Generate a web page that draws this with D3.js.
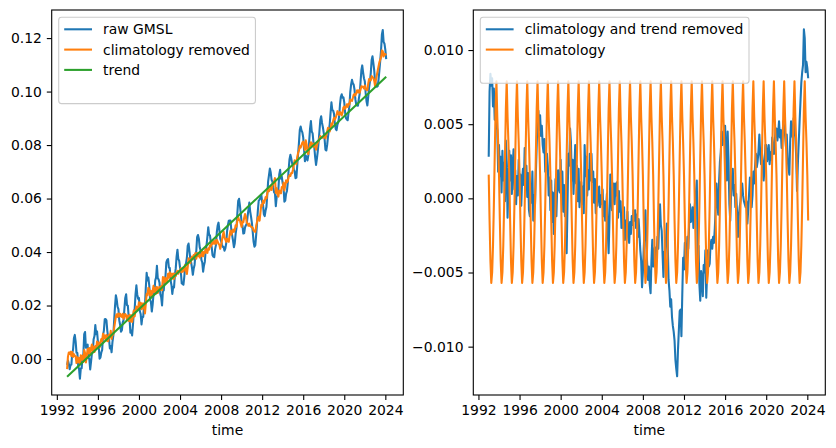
<!DOCTYPE html>
<html>
<head>
<meta charset="utf-8">
<script src="https://cdn.jsdelivr.net/npm/d3@7"></script>
<style>
body { margin: 0; background: #fff; }
text { font-family: "DejaVu Sans", sans-serif; }
</style>
</head>
<body>
<svg id="chart" width="836" height="448"></svg>
<script>
// residual GMSL (climatology and trend removed), mm, monthly Jan 1993 .. Feb 2024
const residMM = [
  2.8, 7.2, 8.4, 7.6, 8.1, 6.2, 7.4, 5.3, 6.0, 5.0, 4.6, 1.8,        // 1993
  3.6, 1.5, 2.8, 0.4, 3.2, 1.2, 2.4, -0.2, 3.9, 2.5, -1.3, 0.8,      // 1994
  3.2, 1.2, 2.9, 0.3, 2.2, 3.3, 0.6, 1.9, -0.4, 1.5, 0.2, 2.6,       // 1995
  0.8, 1.6, -0.5, 1.2, 2.0, 0.9, 3.4, 1.5, 2.2, 0.1, 1.7, -0.8,      // 1996
  -1.2, 0.9, -0.3, 1.8, -1.5, 0.2, -0.5, 1.6, 3.5, 5.4, 5.9, 4.6,    // 1997
  5.6, 4.2, 4.9, 3.6, 3.1, 4.0, 1.8, 2.5, 3.0, 2.2, 0.2, 1.4,        // 1998
  -0.8, 1.2, -1.6, 0.4, -2.4, -0.5, 1.3, -1.2, 0.8, 1.9, 0.6, 0.4,   // 1999
  2.6, 0.5, 1.8, -0.9, 0.9, -1.2, 0.4, -3.7, -0.4, 3.0, 2.2, 4.7,    // 2000
  3.8, 1.2, 2.6, 0.3, 1.9, 3.6, 1.0, 2.2, -0.2, 2.0, -0.6, 0.4,      // 2001
  1.1, -0.4, 0.8, -1.0, 3.6, 1.5, 2.8, 0.2, 1.9, 0.6, 3.0, 1.2,      // 2002
  3.0, 1.1, 1.8, -0.3, 1.3, -1.0, 0.6, -0.5, 0.4, 0.8, -0.6, 0.2,    // 2003
  -0.4, 0.6, -1.2, -0.2, -1.5, -0.6, 0.3, -2.2, -3.7, -1.4, 1.6, 0.2, // 2004
  -0.8, 0.6, 1.0, -0.4, 1.0, 0.2, 1.1, -1.3, 0.5, -0.9, -0.2, -2.0,  // 2005
  -1.2, -2.0, -0.6, -2.8, -1.5, -2.2, -0.9, -2.6, -3.0, -1.6, -2.4, -1.2, // 2006
  -1.8, -0.8, -1.5, -0.8, -2.0, -1.1, -2.6, -1.4, -2.4, -3.5, -4.2, -6.0, // 2007
  -5.0, -3.4, -2.0, -0.8, -3.2, -4.4, -5.5, -4.6, -5.8, -6.4, -4.2, -2.8, // 2008
  -4.6, -3.8, -3.3, -4.5, -4.0, -2.6, -3.4, -1.6, -0.4, -1.8, -2.2, -3.8, // 2009
  -5.3, -3.6, -4.2, -2.8, -1.7, -3.0, -5.5, -6.2, -7.3, -6.8, -8.0, -8.6, // 2010
  -9.0, -9.6, -10.9, -11.5, -12.0, -10.2, -8.9, -7.6, -7.5, -9.3, -6.5, -4.0, // 2011
  -4.8, -3.0, -4.2, -3.7, -2.6, -3.4, -1.8, -0.4, -1.6, -1.3, -0.6, -2.0, // 2012
  -0.8, -0.2, 0.4, 1.2, -4.6, -3.2, -5.8, -6.9, -4.9, -5.4, -6.6, -4.5,   // 2013
  -5.0, -3.5, -6.7, -5.1, -3.5, -4.6, -4.4, -3.1, -2.8, -3.4, -2.6, -3.0, // 2014
  -2.0, -0.6, 1.0, -0.3, -1.1, 1.2, 2.5, 3.1, 4.5, 3.6, 4.2, 4.9,    // 2015
  4.9, 3.2, 1.2, 4.5, 2.6, -0.4, -1.5, 0.3, 1.4, 2.0, 0.2, 0.9,      // 2016
  -0.6, 0.3, -1.0, -2.6, -1.2, -0.6, -0.2, 0.4, 1.0, 0.2, -0.2, -0.4, // 2017
  -0.6, -0.2, -1.7, -0.8, 0.3, 1.4, 0.6, -0.6, 0.2, 1.8, 1.0, 2.2,   // 2018
  3.0, 2.1, 2.5, 3.2, 4.3, 3.0, 2.3, 3.1, 2.5, 1.2, 2.0, 3.6,        // 2019
  3.6, 2.5, 2.9, 3.6, 2.3, 3.1, 2.6, 4.1, 3.5, 3.0, 3.8, 4.7,        // 2020
  4.7, 3.9, 4.4, 5.2, 4.1, 4.6, 3.4, 4.2, 5.2, 4.8, 4.3, 3.5,        // 2021
  4.3, 2.7, 2.0, 1.6, 3.8, 5.2, 4.4, 4.1, 5.4, 4.6, 4.1, 2.8,        // 2022
  0.5, 2.4, 3.8, 5.2, 6.5, 7.8, 8.5, 9.0, 11.4, 10.8, 8.5, 9.2,      // 2023
  8.8, 8.1                                                           // 2024
];

// mean seasonal cycle (climatology), mm, Jan..Dec
const climMM = [1.6, -1.5, -4.2, -5.7, -5.0, -3.2, -0.5, 2.8, 6.0, 7.9, 5.5, 3.8];

// fitted linear trend at first and last month, m
const trendEnds = [-0.0066, 0.1055];

const startYear = 1993;
const xTicks = [1992, 1996, 2000, 2004, 2008, 2012, 2016, 2020, 2024];
const leftTicks = [0, 0.02, 0.04, 0.06, 0.08, 0.10, 0.12];
const rightTicks = [-0.010, -0.005, 0, 0.005, 0.010];

// rebuild the series the way the decomposition was done
const n = residMM.length;
const rows = residMM.map((r, i) => {
  const trend = trendEnds[0] + (trendEnds[1] - trendEnds[0]) * i / (n - 1);
  const clim = climMM[i % 12] / 1000;
  const resid = r / 1000;
  return { t: startYear + i / 12, resid: resid, clim: clim,
           noclim: trend + resid, raw: trend + resid + clim };
});
const trendRows = [
  { t: startYear, v: trendEnds[0] },
  { t: startYear + (n - 1) / 12, v: trendEnds[1] }
];

const C = { blue: "#1f77b4", orange: "#ff7f0e", green: "#2ca02c" };
const FS = 13.9, LW = 2.08;
const svg = d3.select("#chart");
const plotTop = 10, plotBottom = 395;

function panel(x0, x1, yDomain, yTicks, yFmt, lines, legend) {
  const x = d3.scaleLinear().domain([1991.5, 2025.75]).range([x0, x1]);
  const y = d3.scaleLinear().domain(yDomain).range([plotBottom, plotTop]);
  const g = svg.append("g");

  lines.forEach(l => {
    g.append("path")
      .datum(l.data)
      .attr("fill", "none")
      .attr("stroke", l.color)
      .attr("stroke-width", LW)
      .attr("stroke-linejoin", "round")
      .attr("d", d3.line().x(d => x(d.t)).y(d => y(l.val(d))));
  });

  // frame
  g.append("rect")
    .attr("x", x0).attr("y", plotTop)
    .attr("width", x1 - x0).attr("height", plotBottom - plotTop)
    .attr("fill", "none").attr("stroke", "#000").attr("stroke-width", 1.1);

  const ax = g.append("g")
    .attr("transform", `translate(0,${plotBottom})`)
    .call(d3.axisBottom(x).tickValues(xTicks).tickFormat(d3.format("d"))
      .tickSize(4.9).tickPadding(4.9));
  const ay = g.append("g")
    .attr("transform", `translate(${x0},0)`)
    .call(d3.axisLeft(y).tickValues(yTicks).tickFormat(yFmt)
      .tickSize(4.9).tickPadding(4.9));
  [ax, ay].forEach(a => {
    a.select(".domain").remove();
    a.selectAll("line").attr("stroke", "#000").attr("stroke-width", 1.1);
    a.selectAll("text").attr("font-size", FS).attr("fill", "#000")
      .attr("font-family", "DejaVu Sans, sans-serif");
  });

  g.append("text")
    .attr("x", (x0 + x1) / 2).attr("y", 430)
    .attr("text-anchor", "middle").attr("dominant-baseline", "central")
    .attr("font-size", FS).text("time");

  // legend
  const bx = x0 + 7, by = plotTop + 7.3, rowH = 20.3;
  const lg = g.append("g");
  const box = lg.append("rect")
    .attr("x", bx).attr("y", by)
    .attr("height", 25.4 + legend.length * rowH)
    .attr("rx", 2.8)
    .attr("fill", "#fff").attr("fill-opacity", 0.8)
    .attr("stroke", "#cccccc").attr("stroke-width", 1.1);
  const hx = bx + 5.5, tx = hx + 27.8 + 11.1;
  let maxW = 0;
  legend.forEach((e, i) => {
    const cy = by + 12 + i * rowH;
    lg.append("line")
      .attr("x1", hx).attr("x2", hx + 27.8)
      .attr("y1", cy).attr("y2", cy)
      .attr("stroke", e.color).attr("stroke-width", LW);
    const t = lg.append("text")
      .attr("x", tx).attr("y", cy)
      .attr("dominant-baseline", "central")
      .attr("font-size", FS).text(e.label);
    maxW = Math.max(maxW, t.node().getComputedTextLength());
  });
  box.attr("width", tx + maxW + 5.6 - bx);
}

panel(51.7, 403.3, [-0.01346, 0.1305], leftTicks, d3.format(".2f"),
  [
    { data: rows, val: d => d.raw, color: C.blue },
    { data: rows, val: d => d.noclim, color: C.orange },
    { data: trendRows, val: d => d.v, color: C.green }
  ],
  [
    { label: "raw GMSL", color: C.blue },
    { label: "climatology removed", color: C.orange },
    { label: "trend", color: C.green }
  ]);

panel(473.3, 825.3, [-0.01326, 0.0127], rightTicks, d3.format(".3f"),
  [
    { data: rows, val: d => d.resid, color: C.blue },
    { data: rows, val: d => d.clim, color: C.orange }
  ],
  [
    { label: "climatology and trend removed", color: C.blue },
    { label: "climatology", color: C.orange }
  ]);
</script>
</body>
</html>
